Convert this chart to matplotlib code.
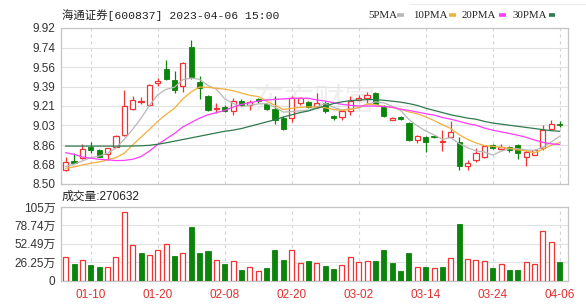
import numpy as np
import matplotlib
matplotlib.use('Agg')
from matplotlib import pyplot as plt
from matplotlib.lines import Line2D

# ---- data ----
dates = ['01-10', '01-20', '02-08', '02-20', '03-02', '03-14', '03-24', '04-06']
date_idx = [3, 11, 19, 27, 35, 43, 51, 59]

opens = [8.63, 8.705, 8.735, 8.835, 8.81, 8.775, 8.84, 8.95, 9.18, 9.245,
         9.22, 9.42, 9.545, 9.445, 9.39, 9.745, 9.43, 9.30, 9.18, 9.20,
         9.16, 9.26, 9.215, 9.27, 9.23, 9.18, 9.105, 9.10, 9.24, 9.25,
         9.20, 9.24, 9.115, 9.11, 9.16, 9.268, 9.28, 9.325, 9.205, 9.085,
         9.11, 9.055, 8.90, 8.93, 8.935, 8.88, 8.93, 8.885, 8.665, 8.715,
         8.75, 8.855, 8.82, 8.835, 8.855, 8.75, 8.765, 8.83, 9.00, 9.05]
highs = [8.75, 8.78, 8.86, 8.886, 8.82, 8.83, 8.95, 9.36, 9.30, 9.29,
         9.41, 9.465, 9.625, 9.525, 9.61, 9.81, 9.48, 9.31, 9.235, 9.22,
         9.28, 9.27, 9.265, 9.28, 9.235, 9.30, 9.12, 9.30, 9.295, 9.26,
         9.33, 9.26, 9.13, 9.175, 9.30, 9.31, 9.34, 9.34, 9.22, 9.11,
         9.12, 9.06, 8.945, 8.935, 8.94, 8.99, 9.07, 8.93, 8.72, 8.825,
         8.855, 8.865, 8.86, 8.85, 8.86, 8.81, 8.82, 9.04, 9.084, 9.07]
lows = [8.62, 8.69, 8.73, 8.785, 8.745, 8.72, 8.835, 8.94, 9.17, 9.23,
        9.21, 9.39, 9.45, 9.33, 9.34, 9.46, 9.27, 9.16, 9.15, 9.155,
        9.13, 9.21, 9.175, 9.24, 9.17, 9.05, 8.995, 9.06, 9.22, 9.19,
        9.195, 9.15, 9.08, 9.085, 9.13, 9.265, 9.24, 9.22, 9.11, 9.08,
        9.08, 8.895, 8.87, 8.795, 8.92, 8.80, 8.915, 8.63, 8.63, 8.70,
        8.735, 8.82, 8.81, 8.795, 8.725, 8.66, 8.76, 8.81, 8.99, 9.02]
closes = [8.70, 8.695, 8.82, 8.805, 8.75, 8.825, 8.94, 9.21, 9.265, 9.255,
          9.40, 9.435, 9.455, 9.36, 9.60, 9.47, 9.375, 9.175, 9.195, 9.16,
          9.26, 9.22, 9.25, 9.255, 9.18, 9.085, 9.00, 9.28, 9.285, 9.20,
          9.24, 9.16, 9.105, 9.16, 9.26, 9.28, 9.31, 9.23, 9.115, 9.105,
          9.09, 8.90, 8.935, 8.885, 8.925, 8.89, 8.975, 8.665, 8.695, 8.78,
          8.845, 8.83, 8.84, 8.81, 8.78, 8.79, 8.805, 8.99, 9.05, 9.035]
prev_close = 8.66

ma5 = [8.66, 8.68, 8.71, 8.74, 8.754, 8.779, 8.828, 8.906, 8.998, 9.099,
       9.214, 9.313, 9.362, 9.381, 9.45, 9.464, 9.452, 9.396, 9.363, 9.275,
       9.233, 9.202, 9.217, 9.229, 9.233, 9.198, 9.154, 9.16, 9.166, 9.17,
       9.201, 9.233, 9.198, 9.173, 9.185, 9.193, 9.223, 9.248, 9.239, 9.208,
       9.17, 9.088, 9.029, 8.983, 8.947, 8.907, 8.922, 8.868, 8.83, 8.801,
       8.792, 8.763, 8.798, 8.821, 8.821, 8.81, 8.805, 8.835, 8.883, 8.934]
ma10 = [8.643, 8.655, 8.673, 8.69, 8.70, 8.72, 8.74, 8.78, 8.855, 8.927,
        8.997, 9.071, 9.134, 9.19, 9.275, 9.339, 9.383, 9.379, 9.372, 9.363,
        9.349, 9.327, 9.307, 9.296, 9.254, 9.216, 9.178, 9.189, 9.198, 9.202,
        9.20, 9.194, 9.179, 9.17, 9.178, 9.197, 9.228, 9.223, 9.206, 9.197,
        9.182, 9.156, 9.139, 9.111, 9.078, 9.039, 9.005, 8.949, 8.907, 8.874,
        8.85, 8.843, 8.833, 8.826, 8.811, 8.801, 8.784, 8.817, 8.852, 8.878]
ma20 = [8.785, 8.77, 8.745, 8.735, 8.725, 8.72, 8.713, 8.715, 8.725, 8.75,
        8.80, 8.86, 8.91, 8.96, 9.02, 9.06, 9.10, 9.13, 9.15, 9.17,
        9.20, 9.225, 9.24, 9.255, 9.264, 9.27, 9.275, 9.28, 9.28, 9.28,
        9.265, 9.255, 9.24, 9.225, 9.216, 9.21, 9.21, 9.21, 9.205, 9.199,
        9.18, 9.17, 9.155, 9.14, 9.127, 9.105, 9.09, 9.07, 9.05, 9.035,
        9.01, 8.99, 8.975, 8.96, 8.944, 8.925, 8.90, 8.88, 8.865, 8.86]
ma30 = [8.845, 8.845, 8.845, 8.845, 8.845, 8.845, 8.845, 8.845, 8.846, 8.848,
        8.852, 8.862, 8.875, 8.89, 8.905, 8.92, 8.935, 8.95, 8.965, 8.98,
        8.99, 9.005, 9.025, 9.045, 9.065, 9.085, 9.11, 9.13, 9.15, 9.165,
        9.19, 9.21, 9.232, 9.248, 9.258, 9.264, 9.268, 9.268, 9.262, 9.254,
        9.245, 9.232, 9.215, 9.19, 9.17, 9.15, 9.13, 9.115, 9.10, 9.09,
        9.07, 9.055, 9.045, 9.035, 9.025, 9.015, 9.005, 8.995, 8.985, 8.98]

volume = [33.7, 24, 28.9, 22.6, 19.3, 19.3, 33.7, 97.8, 50.6, 40,
          37, 43.3, 52.5, 35.2, 40, 76, 40, 42, 28.9, 24,
          27.5, 14.5, 19.7, 13.5, 17.8, 42.9, 28.9, 42.9, 25.5, 27.9,
          25.5, 20.3, 16, 22.2, 34, 27, 28.4, 27.9, 43.5, 25,
          14.2, 38.8, 18.9, 18.9, 17.5, 18.9, 32.6, 80.4, 31.2, 29.8,
          27.9, 18.4, 23.6, 15.6, 15.6, 26.5, 23.6, 71, 54.4, 27.06]

price_labels = ['8.50', '8.68', '8.86', '9.03', '9.21', '9.39', '9.56', '9.74', '9.92']
vol_ticks = [0, 26.25, 52.49, 78.74, 105]
vol_labels = ['0', '26.25万', '52.49万', '78.74万', '105万']

title = '海通证券[600837] 2023-04-06 15:00'
vol_title = '成交量:270632'

RED = '#f03434'
GREEN = '#0b840b'
MA_COLORS = ['#b8b8b8', '#f2b13c', '#ff3cff', '#2f7a4e']
MA_NAMES = ['5PMA', '10PMA', '20PMA', '30PMA']
CJK = ['Liberation Sans', 'Noto Sans CJK SC']
MONO = ['Liberation Mono', 'Noto Sans CJK SC']

o = np.array(opens); h = np.array(highs); l = np.array(lows); c = np.array(closes)
x = np.arange(len(c))
up = c >= o
vol_up = np.diff(c, prepend=prev_close) >= 0

W, H = 586, 305
fig = plt.figure(figsize=(W / 100, H / 100), dpi=100)
ax = fig.add_axes([61 / W, 1 - 184 / H, 507 / W, 156 / H])
axv = fig.add_axes([61 / W, 1 - 280.5 / H, 507 / W, 73.5 / H])

# watermark
ax.text(0.5, 0.53, '东方财富', transform=ax.transAxes, fontsize=22, color='#efefef',
        ha='center', va='center', style='italic', family='Noto Sans CJK SC', zorder=0)

# candles
ax.vlines(x[up], l[up], h[up], color=RED, lw=0.9, zorder=3)
ax.vlines(x[~up], l[~up], h[~up], color=GREEN, lw=0.9, zorder=3)
body = np.maximum(np.abs(c - o), 0.005)
ax.bar(x[up], body[up], bottom=o[up], width=0.62, facecolor='white', edgecolor=RED,
       linewidth=0.9, zorder=4)
ax.bar(x[~up], body[~up], bottom=np.minimum(o, c)[~up], width=0.62, facecolor=GREEN,
       edgecolor=GREEN, linewidth=0.6, zorder=4)

for ma, col in zip([ma5, ma10, ma20, ma30], MA_COLORS):
    ax.plot(x, ma, color=col, lw=0.9, zorder=5)

ax.set_xlim(-0.56, 60.0)
ax.set_ylim(8.50, 9.92)
pt = np.linspace(8.50, 9.92, len(price_labels))
ax.set_yticks(pt)
ax.set_yticklabels(price_labels)
ax.set_xticks(date_idx)
ax.set_xticklabels([])

# volume
axv.bar(x[vol_up], np.array(volume)[vol_up], width=0.6, facecolor='white',
        edgecolor=RED, linewidth=0.9, zorder=3)
axv.bar(x[~vol_up], np.array(volume)[~vol_up], width=0.6, facecolor=GREEN,
        edgecolor=GREEN, linewidth=0.6, zorder=3)
axv.set_xlim(-0.56, 60.0)
axv.set_ylim(0, 105)
axv.set_yticks(vol_ticks)
axv.set_yticklabels(vol_labels)
axv.set_xticks(date_idx)
axv.set_xticklabels(dates)

for a in (ax, axv):
    a.grid(axis='y', color='#e2e2e2', lw=0.8, ls='-')
    a.grid(axis='x', color='#d4d4d4', lw=0.8, ls=(0, (3, 3)))
    a.set_axisbelow(True)
    for s in a.spines.values():
        s.set_color('#c4c4c4')
        s.set_linewidth(0.9)
    a.tick_params(length=0, pad=4, labelsize=8.5, labelcolor='#333333')
    for t in a.get_yticklabels():
        t.set_family(CJK)

for t in axv.get_xticklabels():
    t.set_color('#e03030')
    t.set_family('Liberation Sans')
axv.tick_params(axis='x', pad=6)

# header texts
fig.text(62 / W, 1 - 15 / H, title, ha='left', va='center', fontsize=8.2,
         family=MONO, color='#222222')
fig.text(62 / W, 1 - 197 / H, vol_title, ha='left', va='center', fontsize=8.5,
         family=CJK, color='#222222')

# legend
lx = [368, 413, 462, 512]
dx = [397, 449, 499, 548.5]
for name, col, xt, xd in zip(MA_NAMES, MA_COLORS, lx, dx):
    fig.text(xt / W, 1 - 15 / H, name, ha='left', va='center', fontsize=7.8,
             family='Liberation Serif', color='#222222')
    fig.add_artist(Line2D([xd / W, (xd + 6.5) / W], [1 - 15 / H, 1 - 15 / H],
                          color=col, lw=2.6, solid_capstyle='butt'))
fig.add_artist(Line2D([410 / W, 1], [1 - 4 / H, 1 - 4 / H], color='#ececec', lw=0.8))

fig.savefig('out.png', dpi=100)
